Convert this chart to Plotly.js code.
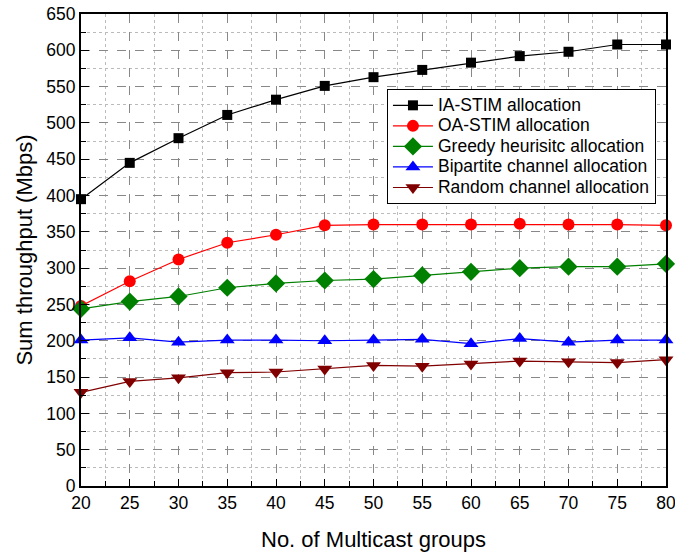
<!DOCTYPE html>
<html>
<head>
<meta charset="utf-8">
<script src="https://cdn.plot.ly/plotly-3.0.1.min.js"></script>
<style>html,body{margin:0;padding:0;background:#fff;}#chart{width:675px;height:555px;}
.legendtext{font-size:17.5px !important;}</style>
</head>
<body>
<div id="chart"></div>
<script>
const groups = [20, 25, 30, 35, 40, 45, 50, 55, 60, 65, 70, 75, 80];
const iaStim = [395, 445, 479, 511, 532, 551, 563, 573, 583, 592, 598, 608, 608];
const oaStim = [248, 282, 312, 335, 346, 359, 360, 360, 360, 361, 360, 360, 359];
const greedy = [244, 254, 261, 273, 279, 283, 285, 290, 295, 300, 302, 302, 306];
const bipartite = [201, 204, 198, 201, 201, 200, 201, 202, 196, 203, 198, 201, 201];
const randomAlloc = [129, 144, 149, 156, 157, 161, 166, 165, 168, 172, 171, 170, 174];
const seriesNames = ["IA-STIM allocation", "OA-STIM allocation", "Greedy heurisitc allocation", "Bipartite channel allocation", "Random channel allocation"];

const styles = [
  {color: "#000000", symbol: "square", size: 10},
  {color: "#ff0000", symbol: "circle", size: 12},
  {color: "#008000", symbol: "diamond", size: 14},
  {color: "#0000ff", symbol: "triangle-up", size: 13},
  {color: "#800000", symbol: "triangle-down", size: 13}
];
const allData = [iaStim, oaStim, greedy, bipartite, randomAlloc];
const traces = allData.map((ys, i) => ({
  x: groups, y: ys, name: seriesNames[i], type: "scatter", mode: "lines+markers",
  line: {color: styles[i].color, width: 1.2},
  marker: {color: styles[i].color, symbol: styles[i].symbol, size: styles[i].size},
  cliponaxis: false
}));

const font = {family: "Arial, Liberation Sans, sans-serif", color: "#000"};
const layout = {
  width: 675, height: 555,
  margin: {l: 81, r: 9, t: 14, b: 69},
  paper_bgcolor: "#fff", plot_bgcolor: "#fff",
  font: font,
  showlegend: true,
  legend: {x: 0.523, y: 0.841, xanchor: "left", yanchor: "top",
    bgcolor: "#fff", bordercolor: "#000", borderwidth: 1,
    font: {family: font.family, size: 13.5, color: "#000"}, tracegroupgap: 0, itemwidth: 40},
  xaxis: {
    range: [20, 80], dtick: 5, tick0: 20,
    showline: true, linecolor: "#000", linewidth: 2, mirror: true,
    ticks: "inside", ticklen: 7, tickcolor: "#000",
    ticklabeloverflow: "allow",
    showgrid: true, gridcolor: "#888", griddash: "dash", gridwidth: 1,
    zeroline: false,
    tickfont: {family: font.family, size: 17.5, color: "#000"},
    minor: {dtick: 2.5, showgrid: true, gridcolor: "#bbb", griddash: "dot", ticks: "inside", ticklen: 5, tickcolor: "#000"},
    title: {text: "No. of Multicast groups", font: {family: font.family, size: 22, color: "#000"}, standoff: 20}
  },
  yaxis: {
    range: [0, 650], dtick: 50, tick0: 0,
    showline: true, linecolor: "#000", linewidth: 2, mirror: true,
    ticks: "inside", ticklen: 8, tickcolor: "#000",
    ticklabeloverflow: "allow",
    showgrid: true, gridcolor: "#888", griddash: "dash", gridwidth: 1,
    zeroline: false,
    tickfont: {family: font.family, size: 17.5, color: "#000"},
    minor: {dtick: 25, showgrid: true, gridcolor: "#bbb", griddash: "dot", ticks: "inside", ticklen: 5, tickcolor: "#000"},
    title: {text: "Sum throughput (Mbps)", font: {family: font.family, size: 22, color: "#000"}, standoff: 8}
  }
};
Plotly.newPlot("chart", traces, layout, {displayModeBar: false, staticPlot: true});
</script>
</body>
</html>
